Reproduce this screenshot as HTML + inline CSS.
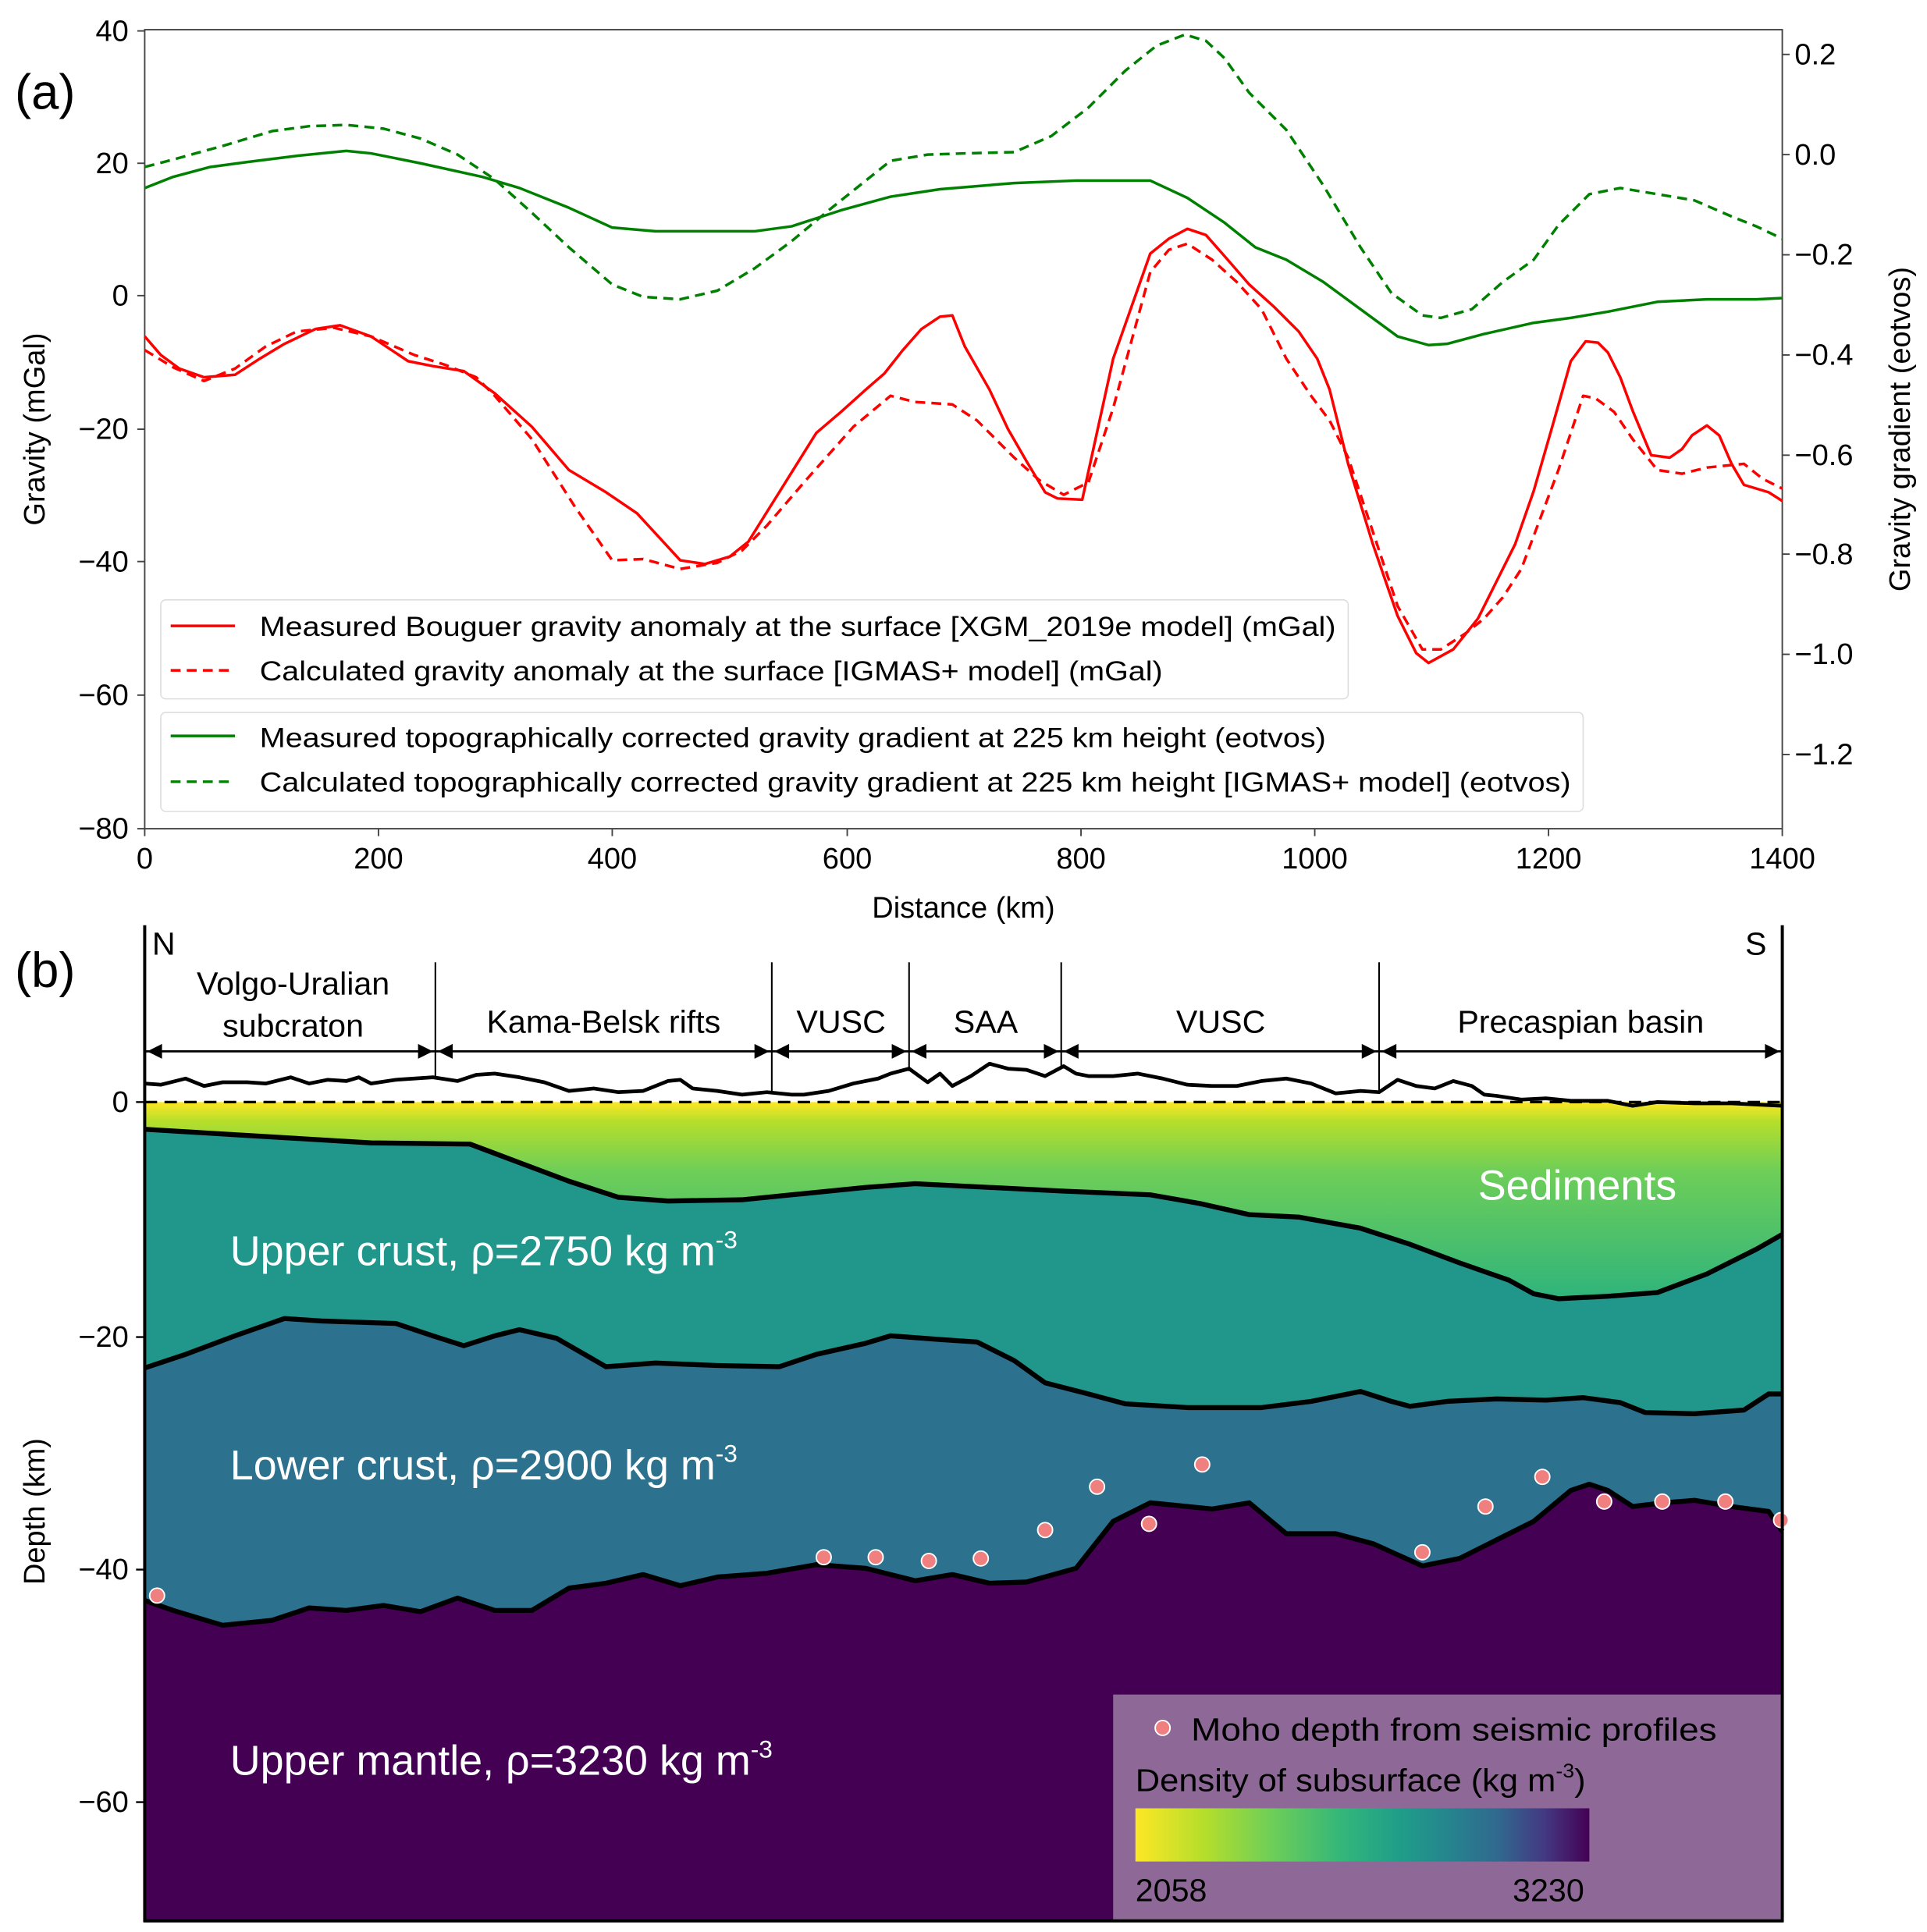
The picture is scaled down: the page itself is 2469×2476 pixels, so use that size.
<!DOCTYPE html>
<html><head><meta charset="utf-8"><style>
html,body{margin:0;padding:0;background:#fff}
svg{display:block}
text{font-family:"Liberation Sans",sans-serif;fill:#000}
</style></head><body>
<svg width="2469" height="2476" viewBox="0 0 1558 1562" preserveAspectRatio="none" xmlns="http://www.w3.org/2000/svg">
<defs>
<linearGradient id="sed" gradientUnits="userSpaceOnUse" x1="0" y1="891" x2="0" y2="1050">
<stop offset="0" stop-color="#fde725"/><stop offset="0.1" stop-color="#b5de2b"/><stop offset="0.35" stop-color="#6ece58"/><stop offset="1" stop-color="#2fb47c"/>
</linearGradient>
<linearGradient id="cb" x1="0" y1="0" x2="1" y2="0">
<stop offset="0" stop-color="#fde725"/><stop offset="0.15" stop-color="#b5de2b"/><stop offset="0.3" stop-color="#6ece58"/><stop offset="0.45" stop-color="#35b779"/><stop offset="0.58" stop-color="#1f9e89"/><stop offset="0.7" stop-color="#26828e"/><stop offset="0.8" stop-color="#31688e"/><stop offset="0.9" stop-color="#443983"/><stop offset="1" stop-color="#440154"/>
</linearGradient>
</defs>

<!-- ===== PANEL A ===== -->
<text x="12" y="88" font-size="40">(a)</text>
<rect x="117" y="24" width="1324" height="646" fill="none" stroke="#444" stroke-width="1.2"/>
<g stroke="#444" stroke-width="1.2">
<line x1="111" y1="25" x2="117" y2="25"/><line x1="111" y1="132" x2="117" y2="132"/><line x1="111" y1="239" x2="117" y2="239"/><line x1="111" y1="347" x2="117" y2="347"/><line x1="111" y1="454" x2="117" y2="454"/><line x1="111" y1="562" x2="117" y2="562"/><line x1="111" y1="670" x2="117" y2="670"/>
<line x1="117" y1="670" x2="117" y2="676"/><line x1="306" y1="670" x2="306" y2="676"/><line x1="495" y1="670" x2="495" y2="676"/><line x1="685" y1="670" x2="685" y2="676"/><line x1="874" y1="670" x2="874" y2="676"/><line x1="1063" y1="670" x2="1063" y2="676"/><line x1="1252" y1="670" x2="1252" y2="676"/><line x1="1441" y1="670" x2="1441" y2="676"/>
<line x1="1441" y1="44" x2="1447" y2="44"/><line x1="1441" y1="125" x2="1447" y2="125"/><line x1="1441" y1="206" x2="1447" y2="206"/><line x1="1441" y1="287" x2="1447" y2="287"/><line x1="1441" y1="368" x2="1447" y2="368"/><line x1="1441" y1="448" x2="1447" y2="448"/><line x1="1441" y1="529" x2="1447" y2="529"/><line x1="1441" y1="610" x2="1447" y2="610"/>
</g>
<g font-size="24" text-anchor="end">
<text x="104" y="33">40</text><text x="104" y="140">20</text><text x="104" y="247">0</text><text x="104" y="355">−20</text><text x="104" y="462">−40</text><text x="104" y="570">−60</text><text x="104" y="678">−80</text>
</g>
<g font-size="24" text-anchor="start">
<text x="1451" y="52">0.2</text><text x="1451" y="133">0.0</text><text x="1451" y="214">−0.2</text><text x="1451" y="295">−0.4</text><text x="1451" y="376">−0.6</text><text x="1451" y="456">−0.8</text><text x="1451" y="537">−1.0</text><text x="1451" y="618">−1.2</text>
</g>
<g font-size="24" text-anchor="middle">
<text x="117" y="702">0</text><text x="306" y="702">200</text><text x="495" y="702">400</text><text x="685" y="702">600</text><text x="874" y="702">800</text><text x="1063" y="702">1000</text><text x="1252" y="702">1200</text><text x="1441" y="702">1400</text>
<text x="779" y="742">Distance (km)</text>
<text transform="translate(36,347) rotate(-90)">Gravity (mGal)</text>
<text transform="translate(1544,347) rotate(-90)">Gravity gradient (eotvos)</text>
</g>

<g fill="none" stroke-width="2.2" stroke-linejoin="round">
<polyline stroke="#008000" points="117,152 140,143 170,135 200,131 240,126 280,122 300,124 340,132 390,143 420,152 460,168 495,184 530,187 570,187 610,187 640,183 680,170 720,159 760,153 820,148 870,146 930,146 960,160 990,180 1015,200 1040,210 1070,228 1100,250 1130,272 1155,279 1170,278 1200,270 1240,261 1270,257 1300,252 1340,244 1380,242 1420,242 1441,241"/>
<polyline stroke="#008000" stroke-dasharray="8,5" points="117,135 140,129 180,118 220,106 250,102 280,101 310,104 340,112 370,125 400,145 430,172 460,200 495,230 520,240 550,242 580,235 610,217 640,195 670,170 700,146 720,130 750,125 780,124 820,123 850,110 880,87 910,57 935,37 958,28 975,33 990,47 1010,75 1040,105 1070,150 1100,200 1125,237 1150,255 1165,257 1190,250 1215,228 1240,210 1260,182 1285,157 1310,152 1340,157 1370,162 1400,175 1420,183 1441,193"/>
<polyline stroke="#ff0000" points="117,272 130,287 145,298 165,305 190,303 210,290 230,278 255,266 275,263 300,272 330,292 350,296 375,300 400,318 430,345 460,380 490,398 515,415 550,453 570,456 590,450 605,438 630,398 660,350 680,333 700,315 715,302 730,283 745,266 760,256 770,255 780,280 800,315 815,347 830,373 845,398 855,403 875,404 900,290 930,205 945,193 960,185 975,190 990,207 1010,230 1030,248 1050,268 1065,290 1075,315 1090,375 1110,440 1130,498 1145,528 1155,536 1175,525 1195,500 1210,470 1225,440 1240,397 1255,345 1270,292 1282,276 1292,277 1300,285 1310,305 1320,332 1335,368 1350,370 1360,363 1368,352 1380,344 1390,352 1400,375 1410,392 1430,398 1441,405"/>
<polyline stroke="#ff0000" stroke-dasharray="8,5" points="117,283 140,297 165,308 190,298 215,280 240,268 270,265 300,272 335,287 360,295 385,305 400,320 430,355 465,410 495,453 520,452 550,460 580,455 600,445 620,425 650,390 690,345 720,320 740,325 770,327 790,340 820,370 840,388 860,400 880,390 900,330 930,220 945,202 960,197 980,210 1000,228 1020,250 1040,290 1060,320 1075,340 1090,370 1110,430 1130,490 1150,525 1165,525 1185,512 1200,500 1215,483 1230,460 1245,420 1260,380 1280,320 1290,322 1305,333 1320,355 1340,380 1360,383 1380,378 1400,376 1410,375 1425,387 1441,395"/>
</g>

<!-- legends -->
<rect x="130" y="485" width="960" height="80" rx="4" fill="#fff" fill-opacity="0.85" stroke="#ddd"/>
<line x1="138" y1="506" x2="190" y2="506" stroke="#ff0000" stroke-width="2.2"/>
<line x1="138" y1="542" x2="190" y2="542" stroke="#ff0000" stroke-width="2.2" stroke-dasharray="8,5"/>
<text x="210" y="514" font-size="22" textLength="870" lengthAdjust="spacingAndGlyphs">Measured Bouguer gravity anomaly at the surface [XGM_2019e model] (mGal)</text>
<text x="210" y="550" font-size="22" textLength="730" lengthAdjust="spacingAndGlyphs">Calculated gravity anomaly at the surface [IGMAS+ model] (mGal)</text>
<rect x="130" y="576" width="1150" height="80" rx="4" fill="#fff" fill-opacity="0.85" stroke="#ddd"/>
<line x1="138" y1="595" x2="190" y2="595" stroke="#008000" stroke-width="2.2"/>
<line x1="138" y1="632" x2="190" y2="632" stroke="#008000" stroke-width="2.2" stroke-dasharray="8,5"/>
<text x="210" y="604" font-size="22" textLength="862" lengthAdjust="spacingAndGlyphs">Measured topographically corrected gravity gradient at 225 km height (eotvos)</text>
<text x="210" y="640" font-size="22" textLength="1060" lengthAdjust="spacingAndGlyphs">Calculated topographically corrected gravity gradient at 225 km height [IGMAS+ model] (eotvos)</text>

<!-- ===== PANEL B ===== -->
<text x="12" y="798" font-size="40">(b)</text>
<polygon fill="url(#sed)" points="117,891 1441,891 1441,1553 117,1553"/>
<polygon fill="#21968b" points="117,913 200,918 300,924 380,925 420,940 460,955 500,968 540,971 600,970 650,965 700,960 740,957 800,960 860,963 930,966 970,973 1010,982 1050,984 1100,993 1140,1006 1180,1021 1220,1035 1240,1046 1260,1050 1300,1048 1340,1045 1380,1030 1420,1010 1441,998 1441,1553 117,1553"/>
<polygon fill="#2c718e" points="117,1106 150,1095 190,1080 230,1066 260,1068 320,1070 350,1080 375,1088 400,1080 420,1075 450,1082 490,1105 530,1102 580,1104 630,1105 660,1095 700,1086 720,1080 760,1083 790,1085 820,1100 845,1118 880,1127 910,1135 960,1138 1020,1138 1060,1133 1100,1125 1125,1133 1140,1137 1170,1133 1210,1131 1250,1132 1280,1130 1310,1134 1330,1142 1370,1143 1410,1140 1430,1127 1441,1127 1441,1553 117,1553"/>
<polygon fill="#440154" points="117,1294 140,1302 180,1314 220,1310 250,1300 280,1302 310,1298 340,1303 370,1292 400,1302 430,1302 460,1284 490,1280 520,1273 550,1282 580,1275 620,1272 660,1265 700,1268 740,1278 770,1273 800,1280 830,1279 870,1268 900,1230 930,1215 960,1218 980,1220 1010,1215 1040,1240 1080,1240 1110,1248 1150,1266 1180,1260 1210,1245 1240,1230 1270,1205 1285,1200 1300,1205 1320,1218 1345,1215 1370,1213 1400,1218 1430,1222 1441,1238 1441,1553 117,1553"/>
<g fill="none" stroke="#000" stroke-width="4" stroke-linejoin="round">
<polyline points="117,913 200,918 300,924 380,925 420,940 460,955 500,968 540,971 600,970 650,965 700,960 740,957 800,960 860,963 930,966 970,973 1010,982 1050,984 1100,993 1140,1006 1180,1021 1220,1035 1240,1046 1260,1050 1300,1048 1340,1045 1380,1030 1420,1010 1441,998"/>
<polyline points="117,1106 150,1095 190,1080 230,1066 260,1068 320,1070 350,1080 375,1088 400,1080 420,1075 450,1082 490,1105 530,1102 580,1104 630,1105 660,1095 700,1086 720,1080 760,1083 790,1085 820,1100 845,1118 880,1127 910,1135 960,1138 1020,1138 1060,1133 1100,1125 1125,1133 1140,1137 1170,1133 1210,1131 1250,1132 1280,1130 1310,1134 1330,1142 1370,1143 1410,1140 1430,1127 1441,1127"/>
<polyline points="117,1294 140,1302 180,1314 220,1310 250,1300 280,1302 310,1298 340,1303 370,1292 400,1302 430,1302 460,1284 490,1280 520,1273 550,1282 580,1275 620,1272 660,1265 700,1268 740,1278 770,1273 800,1280 830,1279 870,1268 900,1230 930,1215 960,1218 980,1220 1010,1215 1040,1240 1080,1240 1110,1248 1150,1266 1180,1260 1210,1245 1240,1230 1270,1205 1285,1200 1300,1205 1320,1218 1345,1215 1370,1213 1400,1218 1430,1222 1441,1238"/>
<polyline stroke-width="3" points="117,876 130,877 150,872 165,878 180,875 200,875 215,876 235,871 250,876 265,873 280,874 290,871 300,876 320,873 350,871 370,874 385,869 400,868 420,871 440,875 460,882 480,880 500,883 520,882 540,874 550,873 560,880 580,882 600,885 620,883 640,885 650,885 670,882 690,876 710,872 720,868 735,864 750,875 760,868 770,878 785,870 800,860 815,864 830,865 845,870 860,862 870,868 880,870 900,870 920,868 940,872 960,877 980,878 1000,878 1020,874 1040,872 1060,876 1080,884 1100,882 1115,883 1130,873 1145,878 1160,880 1175,874 1190,878 1200,885 1210,886 1230,889 1250,888 1270,890 1300,890 1320,894 1340,891 1370,892 1400,892 1441,894"/>
</g>
<line x1="117" y1="891" x2="1441" y2="891" stroke="#000" stroke-width="2" stroke-dasharray="10,6"/>

<!-- Moho dots -->
<g fill="#f08080" stroke="#fff" stroke-width="1.2">
<circle cx="127" cy="1290" r="6"/><circle cx="666" cy="1259" r="6"/><circle cx="708" cy="1259" r="6"/><circle cx="751" cy="1262" r="6"/><circle cx="793" cy="1260" r="6"/><circle cx="845" cy="1237" r="6"/><circle cx="887" cy="1202" r="6"/><circle cx="929" cy="1232" r="6"/><circle cx="972" cy="1184" r="6"/><circle cx="1150" cy="1255" r="6"/><circle cx="1201" cy="1218" r="6"/><circle cx="1247" cy="1194" r="6"/><circle cx="1297" cy="1214" r="6"/><circle cx="1344" cy="1214" r="6"/><circle cx="1395" cy="1214" r="6"/><circle cx="1440" cy="1229" r="6"/>
</g>

<!-- layer labels -->
<g font-size="34">
<text x="186" y="1023" style="fill:#fff">Upper crust, ρ=2750 kg m<tspan font-size="20" dy="-14" style="fill:#fff">-3</tspan></text>
<text x="186" y="1196" style="fill:#fff">Lower crust, ρ=2900 kg m<tspan font-size="20" dy="-14" style="fill:#fff">-3</tspan></text>
<text x="186" y="1435" style="fill:#fff">Upper mantle, ρ=3230 kg m<tspan font-size="20" dy="-14" style="fill:#fff">-3</tspan></text>
<text x="1195" y="970" style="fill:#fff">Sediments</text>
</g>

<!-- legend panel b -->
<rect x="900" y="1370" width="541" height="183" fill="#8e6897"/>
<circle cx="940" cy="1397" r="6" fill="#f08080" stroke="#fff" stroke-width="1.2"/>
<text x="963" y="1407" font-size="26" textLength="425" lengthAdjust="spacingAndGlyphs">Moho depth from seismic profiles</text>
<text x="918" y="1448" font-size="26" textLength="364" lengthAdjust="spacingAndGlyphs">Density of subsurface (kg m<tspan font-size="16" dy="-11">-3</tspan><tspan dy="11">)</tspan></text>
<rect x="918" y="1462" width="367" height="43" fill="url(#cb)"/>
<text x="918" y="1537" font-size="26">2058</text>
<text x="1223" y="1537" font-size="26">3230</text>

<!-- frame b -->
<line x1="117" y1="748" x2="117" y2="1554" stroke="#000" stroke-width="2.5"/>
<line x1="1441" y1="748" x2="1441" y2="1554" stroke="#000" stroke-width="2.5"/>
<line x1="116" y1="1553" x2="1442" y2="1553" stroke="#000" stroke-width="2.5"/>
<g stroke="#000" stroke-width="1.5">
<line x1="110" y1="891" x2="117" y2="891"/><line x1="110" y1="1081" x2="117" y2="1081"/><line x1="110" y1="1269" x2="117" y2="1269"/><line x1="110" y1="1457" x2="117" y2="1457"/>
</g>
<g font-size="24" text-anchor="end">
<text x="104" y="899">0</text><text x="104" y="1089">−20</text><text x="104" y="1277">−40</text><text x="104" y="1465">−60</text>
</g>
<text transform="translate(36,1222) rotate(-90)" font-size="24" text-anchor="middle">Depth (km)</text>
<text x="123" y="772" font-size="26">N</text>
<text x="1411" y="772" font-size="26">S</text>

<!-- region brackets -->
<g stroke="#000" stroke-width="1.3">
<line x1="352" y1="778" x2="352" y2="872"/><line x1="624" y1="778" x2="624" y2="884"/><line x1="735" y1="778" x2="735" y2="866"/><line x1="858" y1="778" x2="858" y2="862"/><line x1="1115" y1="778" x2="1115" y2="882"/>
<line x1="117" y1="850" x2="1441" y2="850" stroke-width="1.8"/>
</g>
<g fill="#000">
<polygon points="119,850 131,844 131,856"/><polygon points="350,850 338,844 338,856"/><polygon points="354,850 366,844 366,856"/>
<polygon points="622,850 610,844 610,856"/><polygon points="626,850 638,844 638,856"/>
<polygon points="733,850 721,844 721,856"/><polygon points="737,850 749,844 749,856"/>
<polygon points="856,850 844,844 844,856"/><polygon points="860,850 872,844 872,856"/>
<polygon points="1113,850 1101,844 1101,856"/><polygon points="1117,850 1129,844 1129,856"/>
<polygon points="1439,850 1427,844 1427,856"/>
</g>
<g font-size="26" text-anchor="middle">
<text x="237" y="804">Volgo-Uralian</text><text x="237" y="838">subcraton</text>
<text x="488" y="835">Kama-Belsk rifts</text>
<text x="680" y="835">VUSC</text>
<text x="797" y="835">SAA</text>
<text x="987" y="835">VUSC</text>
<text x="1278" y="835">Precaspian basin</text>
</g>
</svg>
</body></html>
